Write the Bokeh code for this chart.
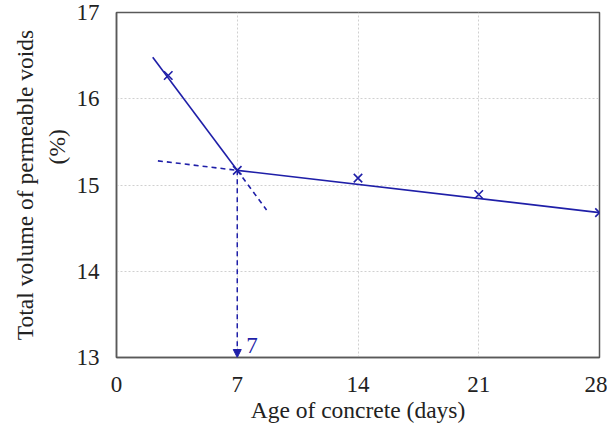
from bokeh.plotting import figure
from bokeh.models import Arrow, NormalHead, Label, FixedTicker
from bokeh.embed import file_html
from bokeh.resources import INLINE

# Data
age_days = [3, 7, 14, 21, 28]
voids_pct = [16.27, 15.17, 15.08, 14.89, 14.68]

# Early-age trend line (solid part and dashed extension)
early_x = [2.1, 7.0]
early_y = [16.48, 15.17]
early_ext_x = [7.0, 8.7]
early_ext_y = [15.17, 14.71]

# Later-age trend line (solid part and dashed back-extension)
late_x = [7.0, 28.0]
late_y = [15.17, 14.68]
late_ext_x = [2.4, 7.0]
late_ext_y = [15.28, 15.17]

# Intersection marker arrow
cross_x = 7
cross_y = 15.17
cross_label = "7"

x_ticks = [0, 7, 14, 21, 28]
y_ticks = [13, 14, 15, 16, 17]

BLUE = "#1f1fa8"
FONT = "Liberation Serif"

p = figure(width=607, height=426, x_range=(0, 28), y_range=(13, 17),
           output_backend="svg", toolbar_location=None,
           min_border_left=116, min_border_top=12, min_border_right=8,
           min_border_bottom=69)

p.line(early_x, early_y, line_color=BLUE, line_width=1.6)
p.line(early_ext_x, early_ext_y, line_color=BLUE, line_width=1.6, line_dash="5 4")
p.line(late_x, late_y, line_color=BLUE, line_width=1.6)
p.line(late_ext_x, late_ext_y, line_color=BLUE, line_width=1.6, line_dash="5 4")
p.scatter(age_days, voids_pct, marker="x", size=12, line_color=BLUE, line_width=1.6)

arrow = Arrow(end=NormalHead(size=8, fill_color=BLUE, line_color=BLUE),
              x_start=cross_x, y_start=cross_y, x_end=cross_x, y_end=y_ticks[0],
              line_color=BLUE, line_width=1.5, line_dash="5 4")
p.add_layout(arrow)
p.add_layout(Label(x=cross_x, y=y_ticks[0], text=cross_label, x_offset=9, y_offset=5,
                   text_font=FONT, text_font_size="23px", text_color=BLUE,
                   text_baseline="bottom", text_align="left"))

p.xaxis.ticker = FixedTicker(ticks=x_ticks)
p.yaxis.ticker = FixedTicker(ticks=y_ticks)

for ax in (p.xaxis[0], p.yaxis[0]):
    ax.major_tick_line_color = None
    ax.minor_tick_line_color = None
    ax.major_tick_out = 0
    ax.major_tick_in = 0
    ax.axis_line_color = "#595959"
    ax.axis_line_width = 1.5
    ax.major_label_text_font = FONT
    ax.major_label_text_font_size = "23px"
    ax.major_label_text_color = "#222222"
    ax.axis_label_text_font = FONT
    ax.axis_label_text_font_size = "23.5px"
    ax.axis_label_text_font_style = "normal"
    ax.axis_label_text_color = "#222222"

p.xaxis.axis_label = "Age of concrete (days)"
p.yaxis.axis_label = "Total volume of permeable voids\n" + "\u00a0" * 13 + "(%)"
p.xaxis.major_label_standoff = 19
p.xaxis.axis_label_standoff = 2
p.yaxis.major_label_standoff = 17
p.yaxis.axis_label_standoff = 4

p.xgrid.grid_line_color = "#d0d0d0"
p.ygrid.grid_line_color = "#d0d0d0"
p.xgrid.grid_line_dash = "2 2"
p.ygrid.grid_line_dash = "2 2"
p.grid.grid_line_width = 1

p.outline_line_color = "#595959"
p.outline_line_width = 1.5
p.outline_line_alpha = 1
p.background_fill_color = "white"
p.border_fill_color = "white"

open("out.html", "w").write(file_html(p, INLINE))
